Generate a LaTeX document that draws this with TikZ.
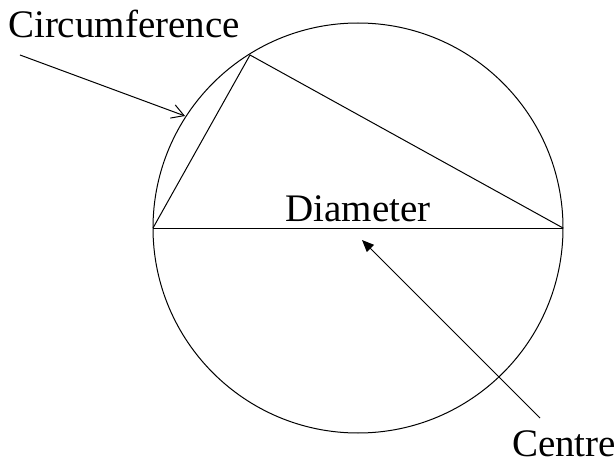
\documentclass[tikz,border=0pt]{standalone}
\usepackage{fontspec}
\setmainfont{Liberation Serif}
\usetikzlibrary{calc,positioning,arrows.meta}
\definecolor{traco}{HTML}{000000}
\begin{document}
\begin{tikzpicture}[x=0.5pt,y=-0.5pt, font=\fontsize{19.5}{23}\selectfont,
    rotulo/.style={inner sep=0pt, text=traco},
    linha/.style={draw=traco, line width=0.5pt},
    seta/.style={-{Straight Barb[length=6pt,width=7pt,line width=0.5pt]}, line width=0.5pt, traco},
    setac/.style={-{Triangle[length=6pt,width=5pt]}, line width=0.5pt, traco}]
  \useasboundingbox (0,0) rectangle (616,465);
  \node[linha, circle, minimum size=205pt, inner sep=0pt] (circ) at (358,228) {};
  \coordinate (pe) at (153,228);
  \coordinate (pd) at (563,228);
  \coordinate (pt) at (250,55);
  \draw[linha] (pe) -- (pd);
  \draw[linha] (pe) -- (pt) -- (pd);
  \node[rotulo] (lcirc) at (124,24) {Circumference};
  \node[rotulo] (ldiam) at (358,209) {Diameter};
  \node[rotulo] (lcent) at (564,444) {Centre};
  \coordinate (ic) at (20,55);
  \coordinate (fc) at (185,116);
  \coordinate (ie) at (540,418);
  \coordinate (fe) at (362,240);
  \draw[seta] (ic) -- (fc);
  \draw[setac] (ie) -- (fe);
\end{tikzpicture}
\end{document}
